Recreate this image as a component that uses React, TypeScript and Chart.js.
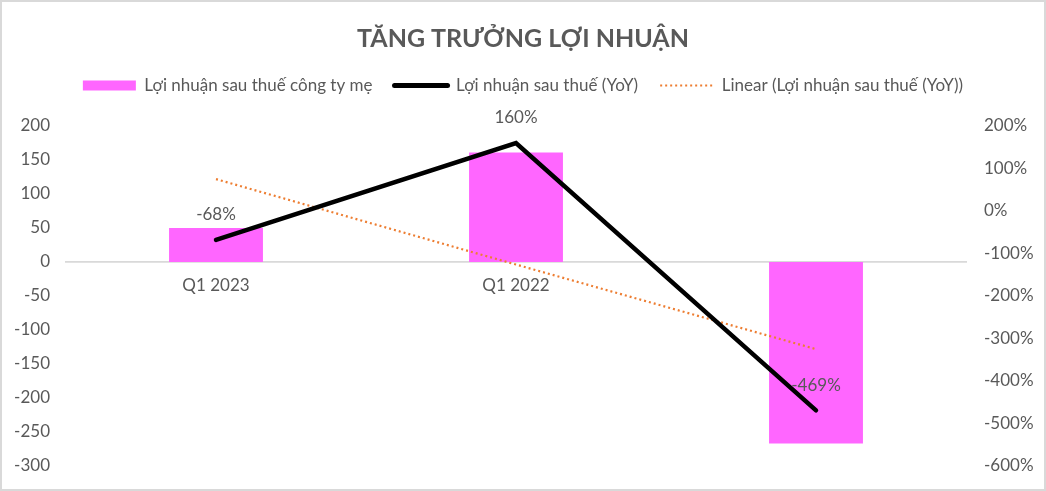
import React, { useRef, useEffect } from "react";
import { Chart, registerables } from "chart.js";

Chart.register(...registerables);

const categories = ["Q1 2023", "Q1 2022", "Q1 2021"];
const profitValues = [50, 161, -267];
const yoyValues = [-68, 160, -469];
const trendValues = [75, -126, -325];

const seriesNames = [
    "Lợi nhuận sau thuế công ty mẹ",
    "Lợi nhuận sau thuế (YoY)",
    "Linear (Lợi nhuận sau thuế (YoY))",
];

const leftTicks = [-300, 200, 50];
const rightTicks = [-600, 200, 100];

const FONT = "Lato";
const TEXT = "#595959";

// nhãn % trên đường YoY
const yoyLabels = {
    id: "yoyLabels",
    afterDatasetsDraw(chart: any) {
        const meta = chart.getDatasetMeta(1);
        const ctx = chart.ctx;
        ctx.save();
        ctx.font = `17px ${FONT}`;
        ctx.fillStyle = TEXT;
        ctx.textAlign = "center";
        ctx.textBaseline = "middle";
        meta.data.forEach((pt: any, i: number) => {
            ctx.fillText(`${yoyValues[i]}%`, pt.x, pt.y - 25);
        });
        ctx.restore();
    },
};

const ProfitChart = () => {
    const chartRef = useRef<HTMLCanvasElement>(null);

    useEffect(() => {
        document.body.style.margin = "0";
        const ctx = chartRef.current?.getContext("2d");
        if (!ctx) return;

        const chart = new Chart(ctx, {
            type: "bar",
            data: {
                labels: categories,
                datasets: [
                    {
                        type: "bar",
                        label: seriesNames[0],
                        data: profitValues,
                        backgroundColor: "#FF66FF",
                        yAxisID: "y",
                        categoryPercentage: 1,
                        barPercentage: 0.313,
                        order: 3,
                    },
                    {
                        type: "line",
                        label: seriesNames[1],
                        data: yoyValues,
                        borderColor: "#000000",
                        borderWidth: 4.5,
                        borderCapStyle: "round",
                        pointRadius: 0,
                        yAxisID: "y1",
                        order: 1,
                    },
                    {
                        type: "line",
                        label: seriesNames[2],
                        data: trendValues,
                        borderColor: "#ED7D31",
                        borderWidth: 2.2,
                        borderDash: [2, 3],
                        pointRadius: 0,
                        yAxisID: "y1",
                        order: 2,
                    },
                ] as any,
            },
            options: {
                responsive: true,
                maintainAspectRatio: false,
                animation: false,
                layout: { padding: { left: 0, right: 0, top: 0, bottom: 23 } },
                plugins: {
                    tooltip: { enabled: false },
                    title: {
                        display: true,
                        text: "TĂNG TRƯỞNG LỢI NHUẬN",
                        color: TEXT,
                        font: { family: FONT, size: 25, weight: "bold" },
                        padding: { top: 22, bottom: 1 },
                    },
                    // khoảng trống giữa chú thích và vùng vẽ
                    subtitle: {
                        display: true,
                        text: " ",
                        weight: 500,
                        font: { size: 10 },
                        padding: { top: 10, bottom: 0 },
                    } as any,
                    legend: {
                        display: true,
                        labels: {
                            color: TEXT,
                            font: { family: FONT, size: 17 },
                            usePointStyle: true,
                            pointStyleWidth: 53,
                            boxHeight: 10,
                            padding: 22,
                            generateLabels: (ch: any) =>
                                ch.data.datasets.map((ds: any, i: number) => ({
                                    text: ds.label,
                                    datasetIndex: i,
                                    fontColor: TEXT,
                                    pointStyle: i === 0 ? "rect" : "line",
                                    fillStyle: i === 0 ? "#FF66FF" : "transparent",
                                    strokeStyle: i === 0 ? "#FF66FF" : ds.borderColor,
                                    lineWidth: i === 0 ? 0 : i === 1 ? 5 : 2.2,
                                    lineCap: i === 1 ? "round" : "butt",
                                    lineDash: i === 2 ? [2, 3] : [],
                                })),
                        },
                    },
                },
                scales: {
                    x: {
                        position: { y: 0 } as any,
                        grid: { display: false, drawTicks: true, tickLength: 13 },
                        border: { display: true, color: "#D9D9D9", width: 1.8 },
                        ticks: {
                            color: TEXT,
                            padding: 0,
                            font: { family: FONT, size: 17 },
                        },
                    },
                    y: {
                        position: "left",
                        min: leftTicks[0],
                        max: leftTicks[1],
                        grid: { display: false, drawTicks: true, tickLength: 16 },
                        border: { display: false },
                        afterFit: (s: any) => {
                            s.width = 64;
                        },
                        ticks: {
                            stepSize: leftTicks[2],
                            color: TEXT,
                            padding: 0,
                            font: { family: FONT, size: 17 },
                        },
                    },
                    y1: {
                        position: "right",
                        min: rightTicks[0],
                        max: rightTicks[1],
                        grid: { display: false, drawTicks: true, tickLength: 18 },
                        border: { display: false },
                        afterFit: (s: any) => {
                            s.width = 78;
                        },
                        ticks: {
                            stepSize: rightTicks[2],
                            color: TEXT,
                            padding: 0,
                            font: { family: FONT, size: 17 },
                            callback: (v: any) => `${v}%`,
                        },
                    },
                },
            },
            plugins: [yoyLabels],
        });

        return () => {
            chart.destroy();
        };
    }, []);

    return (
        <div
            style={{
                width: 1046,
                height: 491,
                boxSizing: "border-box",
                border: "2px solid #D9D9D9",
                background: "#fff",
            }}
        >
            <div style={{ position: "relative", width: "100%", height: "100%" }}>
                <canvas ref={chartRef}></canvas>
            </div>
        </div>
    );
};

export default function App() {
    return <ProfitChart />;
}
